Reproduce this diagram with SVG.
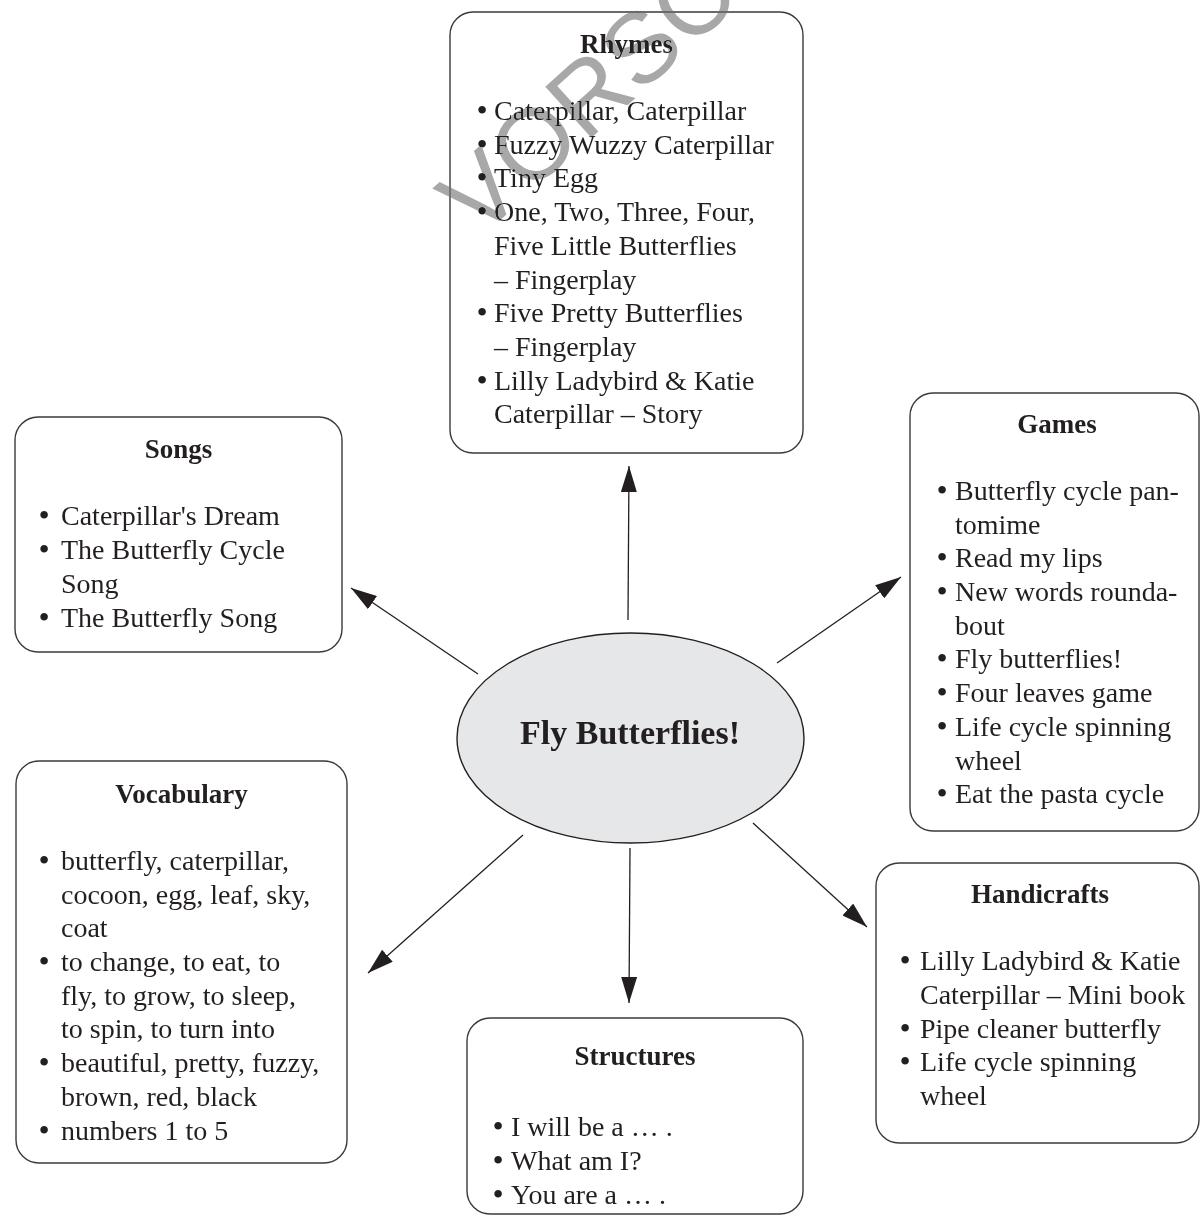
<svg xmlns="http://www.w3.org/2000/svg" width="1200" height="1215" viewBox="0 0 1200 1215">
<style>
.box{fill:#fff;stroke:#3a3a3a;stroke-width:1.4}
.h{font-family:"Liberation Serif","Times New Roman",serif;font-weight:bold;font-size:27px;fill:#231f20;text-anchor:middle}
.t{font-family:"Liberation Serif","Times New Roman",serif;font-size:28px;fill:#231f20}
.b{font-family:"Liberation Serif","Times New Roman",serif;font-size:32px;fill:#231f20;text-anchor:middle}
.c{fill:none;stroke:#231f20;stroke-width:1.3}
.wm{font-family:"Liberation Sans",Arial,sans-serif;font-size:100px;fill:#a8a8a8;mix-blend-mode:darken}
</style>
<defs>
<marker id="ah" viewBox="0 0 26 16" refX="26" refY="8" markerWidth="26" markerHeight="16" markerUnits="userSpaceOnUse" orient="auto">
<path d="M0,0 L26,8 L0,16 z" fill="#231f20"/>
</marker>
</defs>
<rect width="1200" height="1215" fill="#fff"/>

<g id="connectors">
<line class="c" x1="628" y1="620" x2="629" y2="466" marker-end="url(#ah)"/>
<line class="c" x1="478" y1="674" x2="351" y2="588" marker-end="url(#ah)"/>
<line class="c" x1="777" y1="663" x2="901" y2="577" marker-end="url(#ah)"/>
<line class="c" x1="523" y1="835" x2="368" y2="973" marker-end="url(#ah)"/>
<line class="c" x1="630" y1="848" x2="629" y2="1003" marker-end="url(#ah)"/>
<line class="c" x1="753" y1="823" x2="867" y2="927" marker-end="url(#ah)"/>
</g>

<g id="center">
<ellipse cx="630.5" cy="738" rx="173.5" ry="105" fill="#e6e7e8" stroke="#231f20" stroke-width="1.4"/>
<text x="630" y="744" font-family="'Liberation Serif','Times New Roman',serif" font-weight="bold" font-size="34" fill="#231f20" text-anchor="middle">Fly Butterflies!</text>
</g>

<g id="rhymes">
<rect class="box" x="450" y="12" width="353" height="441" rx="23"/>
<text class="h" x="626.5" y="53">Rhymes</text>
<text class="b" x="482" y="121">•</text>
<text class="t" x="494" y="120">Caterpillar, Caterpillar</text>
<text class="b" x="482" y="155">•</text>
<text class="t" x="494" y="154">Fuzzy Wuzzy Caterpillar</text>
<text class="b" x="482" y="188">•</text>
<text class="t" x="494" y="187">Tiny Egg</text>
<text class="b" x="482" y="222">•</text>
<text class="t" x="494" y="221">One, Two, Three, Four,</text>
<text class="t" x="494" y="255">Five Little Butterflies</text>
<text class="t" x="494" y="289">– Fingerplay</text>
<text class="b" x="482" y="323">•</text>
<text class="t" x="494" y="322">Five Pretty Butterflies</text>
<text class="t" x="494" y="356">– Fingerplay</text>
<text class="b" x="482" y="391">•</text>
<text class="t" x="494" y="390">Lilly Ladybird &amp; Katie</text>
<text class="t" x="494" y="423">Caterpillar – Story</text>
</g>

<g id="songs">
<rect class="box" x="15" y="417" width="327" height="235" rx="23"/>
<text class="h" x="178.5" y="458">Songs</text>
<text class="b" x="44" y="526">•</text>
<text class="t" x="61" y="525">Caterpillar's Dream</text>
<text class="b" x="44" y="560">•</text>
<text class="t" x="61" y="559">The Butterfly Cycle</text>
<text class="t" x="61" y="593">Song</text>
<text class="b" x="44" y="628">•</text>
<text class="t" x="61" y="627">The Butterfly Song</text>
</g>

<g id="games">
<rect class="box" x="910" y="393" width="289" height="438" rx="23"/>
<text class="h" x="1057" y="433">Games</text>
<text class="b" x="942" y="501">•</text>
<text class="t" x="955" y="500">Butterfly cycle pan-</text>
<text class="t" x="955" y="534">tomime</text>
<text class="b" x="942" y="568">•</text>
<text class="t" x="955" y="567">Read my lips</text>
<text class="b" x="942" y="602">•</text>
<text class="t" x="955" y="601">New words rounda-</text>
<text class="t" x="955" y="635">bout</text>
<text class="b" x="942" y="669">•</text>
<text class="t" x="955" y="668">Fly butterflies!</text>
<text class="b" x="942" y="703">•</text>
<text class="t" x="955" y="702">Four leaves game</text>
<text class="b" x="942" y="737">•</text>
<text class="t" x="955" y="736">Life cycle spinning</text>
<text class="t" x="955" y="770">wheel</text>
<text class="b" x="942" y="804">•</text>
<text class="t" x="955" y="803">Eat the pasta cycle</text>
</g>

<g id="vocabulary">
<rect class="box" x="16" y="761" width="331" height="402" rx="23"/>
<text class="h" x="181.5" y="803">Vocabulary</text>
<text class="b" x="44" y="871">•</text>
<text class="t" x="61" y="870">butterfly, caterpillar,</text>
<text class="t" x="61" y="904">cocoon, egg, leaf, sky,</text>
<text class="t" x="61" y="937">coat</text>
<text class="b" x="44" y="972">•</text>
<text class="t" x="61" y="971">to change, to eat, to</text>
<text class="t" x="61" y="1005">fly, to grow, to sleep,</text>
<text class="t" x="61" y="1038">to spin, to turn into</text>
<text class="b" x="44" y="1073">•</text>
<text class="t" x="61" y="1072">beautiful, pretty, fuzzy,</text>
<text class="t" x="61" y="1106">brown, red, black</text>
<text class="b" x="44" y="1141">•</text>
<text class="t" x="61" y="1140">numbers 1 to 5</text>
</g>

<g id="handicrafts">
<rect class="box" x="876" y="863" width="323" height="280" rx="23"/>
<text class="h" x="1040" y="903">Handicrafts</text>
<text class="b" x="905" y="971">•</text>
<text class="t" x="920" y="970">Lilly Ladybird &amp; Katie</text>
<text class="t" x="920" y="1004">Caterpillar – Mini book</text>
<text class="b" x="905" y="1039">•</text>
<text class="t" x="920" y="1038">Pipe cleaner butterfly</text>
<text class="b" x="905" y="1072">•</text>
<text class="t" x="920" y="1071">Life cycle spinning</text>
<text class="t" x="920" y="1105">wheel</text>
</g>

<g id="structures">
<rect class="box" x="467" y="1018" width="336" height="196" rx="23"/>
<text class="h" x="635" y="1065">Structures</text>
<text class="b" x="498" y="1137">•</text>
<text class="t" x="511" y="1136">I will be a … .</text>
<text class="b" x="498" y="1171">•</text>
<text class="t" x="511" y="1170">What am I?</text>
<text class="b" x="498" y="1205">•</text>
<text class="t" x="511" y="1204">You are a … .</text>
</g>

<text class="wm" transform="translate(478,240) rotate(-42)">VORSCHAU</text>
</svg>
